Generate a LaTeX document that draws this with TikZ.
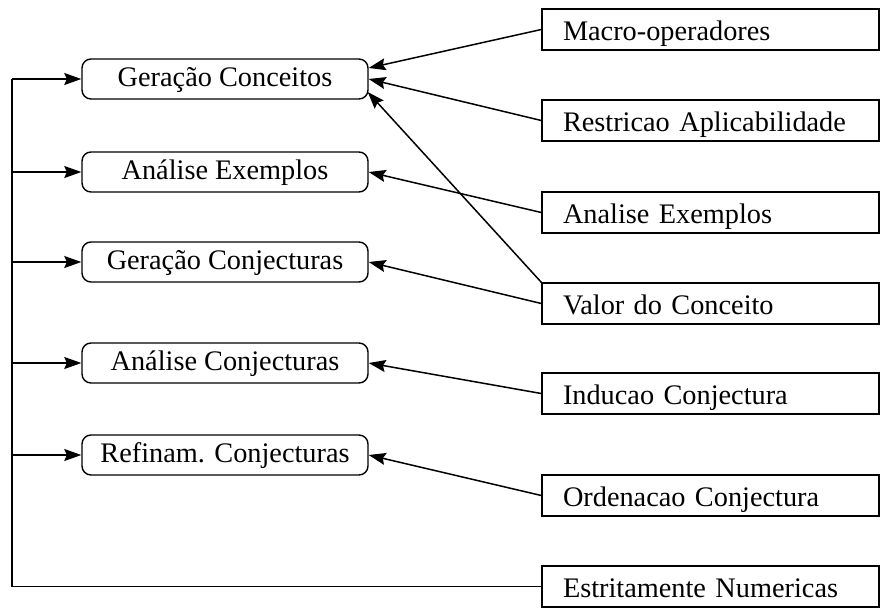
\documentclass[tikz,border=0pt]{standalone}
\usepackage{fontspec}
\setmainfont{Liberation Serif}
\usetikzlibrary{arrows.meta,calc}

\begin{document}
\begin{tikzpicture}[x=1pt,y=-1pt,
    every node/.style={font=\fontsize{28.3}{34}\selectfont},
    phase/.style={draw, line width=1.4pt, rounded corners=9pt,
      minimum width=286pt, minimum height=40pt, inner sep=0pt,
      text height=20pt, text depth=6pt},
    heuristic/.style={draw, line width=1.4pt, minimum width=337pt,
      minimum height=41pt, inner xsep=21pt, inner ysep=0pt,
      text width=295pt, align=left, text height=31pt, text depth=10pt},
    link/.style={line width=1.5pt,
      -{Stealth[length=17pt,width=12pt,inset=2.5pt]}},
    plain/.style={line width=1.5pt}]
  \useasboundingbox (0,0) rectangle (889,613);

  % phases of the discovery cycle
  \node[phase] (gc) at (225,79)  {Geração Conceitos};
  \node[phase] (ae) at (225,172) {Análise Exemplos};
  \node[phase] (gj) at (225,262) {Geração Conjecturas};
  \node[phase] (aj) at (225,363) {Análise Conjecturas};
  \node[phase] (rj) at (225,455) {Refinam. Conjecturas};

  % heuristics feeding the phases
  \node[heuristic] (mo) at (710.5,29.5)  {Macro-operadores};
  \node[heuristic] (ra) at (710.5,120.5) {Restricao Aplicabilidade};
  \node[heuristic] (ax) at (710.5,212.5) {Analise Exemplos};
  \node[heuristic] (vc) at (710.5,303.5) {Valor do Conceito};
  \node[heuristic] (ic) at (710.5,393.5) {Inducao Conjectura};
  \node[heuristic] (oc) at (710.5,495.5) {Ordenacao Conjectura};
  \node[heuristic] (en) at (710.5,586.5) {Estritamente Numericas};

  % connections from heuristics to phases
  \draw[link] (mo.west) -- ($(gc.east)+(0,-11)$);
  \draw[link] (ra.west) -- (gc.east);
  \draw[link] (vc.north west) -- ($(gc.east)+(-1,13)$);
  \draw[link] (ax.west) -- (ae.east);
  \draw[link] (vc.west) -- (gj.east);
  \draw[link] (ic.west) -- (aj.east);
  \draw[link] (oc.west) -- (rj.east);

  % common trunk on the left
  \coordinate (trunk) at (12,0);
  \draw[plain] (en.west) -- (en.west -| trunk) -- (trunk |- gc.west);
  \foreach \p in {gc,ae,gj,aj,rj}
    \draw[link] (trunk |- \p.west) -- (\p.west);
\end{tikzpicture}
\end{document}
